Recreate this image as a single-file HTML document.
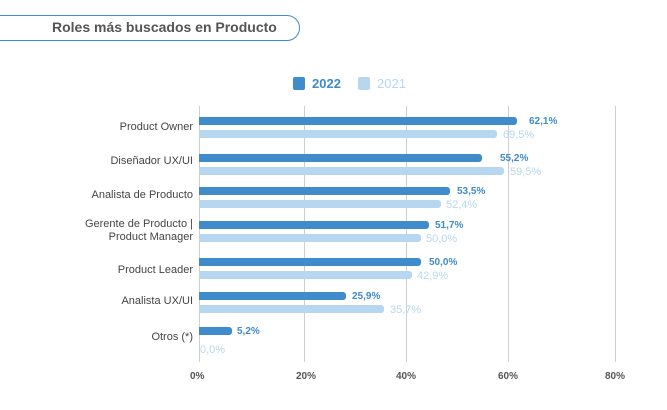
<!DOCTYPE html>
<html><head><meta charset="utf-8"><style>
body{margin:0;width:667px;height:410px;background:#fff;position:relative;overflow:hidden;font-family:"Liberation Sans",sans-serif}
.a{position:absolute}
.g{position:absolute;top:106px;height:256px;width:1px;background:#cfcfcf}
.b1{position:absolute;left:199px;height:8px;background:#3f8bcc;border-radius:0 3px 3px 0}
.b2{position:absolute;left:199px;height:8px;background:#b7d7f1;border-radius:0 3px 3px 0}
.v1{position:absolute;font-size:10px;font-weight:bold;color:#3f8bcc}
.v2{position:absolute;font-size:11px;color:#b7d7f1}
.l{position:absolute;right:474px;font-size:11px;color:#444;text-align:right;line-height:13px}
.t{position:absolute;top:371px;font-size:10px;font-weight:bold;color:#555}
</style></head><body>
<div class="a" style="left:-20px;top:15px;width:318px;height:24px;border:1.5px solid #3f8bcc;border-radius:13px"></div>
<div class="a" style="left:52px;top:19px;font-size:14px;font-weight:bold;color:#555">Roles más buscados en Producto</div>
<div class="a" style="left:293px;top:77px;width:12px;height:13px;background:#3f8bcc;border-radius:2px"></div>
<div class="a" style="left:312px;top:76px;font-size:13px;font-weight:bold;color:#3f8bcc">2022</div>
<div class="a" style="left:358px;top:77px;width:12px;height:13px;background:#b7d7f1;border-radius:2px"></div>
<div class="a" style="left:377px;top:76px;font-size:13px;color:#b7d7f1">2021</div>
<div class="g" style="left:199px"></div><div class="g" style="left:304px"></div><div class="g" style="left:406px"></div><div class="g" style="left:508px"></div><div class="g" style="left:615px"></div>

<div class="l" style="top:121px">Product Owner</div>
<div class="b1" style="top:117px;width:318px"></div><div class="v1" style="left:529px;top:116px">62,1%</div>
<div class="b2" style="top:130px;width:298px"></div><div class="v2" style="left:503px;top:129px">69,5%</div>

<div class="l" style="top:155px">Diseñador UX/UI</div>
<div class="b1" style="top:154px;width:283px"></div><div class="v1" style="left:500px;top:153px">55,2%</div>
<div class="b2" style="top:167px;width:305px"></div><div class="v2" style="left:510px;top:166px">59,5%</div>

<div class="l" style="top:189px">Analista de Producto</div>
<div class="b1" style="top:187px;width:251px"></div><div class="v1" style="left:457px;top:186px">53,5%</div>
<div class="b2" style="top:200px;width:242px"></div><div class="v2" style="left:446px;top:199px">52,4%</div>

<div class="l" style="top:218px">Gerente de Producto |<br>Product Manager</div>
<div class="b1" style="top:221px;width:230px"></div><div class="v1" style="left:435px;top:220px">51,7%</div>
<div class="b2" style="top:234px;width:222px"></div><div class="v2" style="left:426px;top:233px">50,0%</div>

<div class="l" style="top:264px">Product Leader</div>
<div class="b1" style="top:258px;width:222px"></div><div class="v1" style="left:429px;top:257px">50,0%</div>
<div class="b2" style="top:271px;width:213px"></div><div class="v2" style="left:417px;top:270px">42,9%</div>

<div class="l" style="top:295px">Analista UX/UI</div>
<div class="b1" style="top:292px;width:147px"></div><div class="v1" style="left:352px;top:291px">25,9%</div>
<div class="b2" style="top:305px;width:185px"></div><div class="v2" style="left:390px;top:304px">35,7%</div>

<div class="l" style="top:331px">Otros (*)</div>
<div class="b1" style="top:327px;width:33px"></div><div class="v1" style="left:237px;top:326px">5,2%</div>
<div class="v2" style="left:200px;top:344px">0,0%</div>

<div class="t" style="left:190px">0%</div><div class="t" style="left:296px">20%</div><div class="t" style="left:396px">40%</div><div class="t" style="left:498px">60%</div><div class="t" style="left:605px">80%</div>
</body></html>
